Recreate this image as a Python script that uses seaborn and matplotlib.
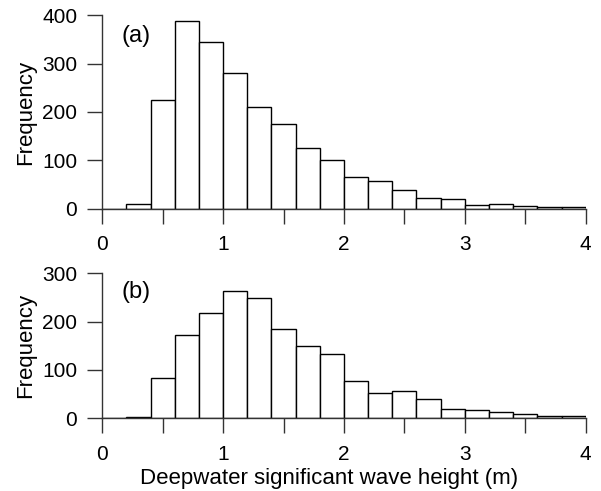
import numpy as np
import pandas as pd
import matplotlib
matplotlib.use("Agg")
import matplotlib.pyplot as plt
import seaborn as sns

sns.set_theme(style="ticks")
plt.rcParams['font.family'] = ['Liberation Sans', 'DejaVu Sans']
plt.rcParams['text.color'] = 'black'
plt.rcParams['axes.labelcolor'] = 'black'

# Bin lower edges (m) and counts
bin_left = [0.0, 0.2, 0.4, 0.6, 0.8, 1.0, 1.2, 1.4, 1.6, 1.8,
            2.0, 2.2, 2.4, 2.6, 2.8, 3.0, 3.2, 3.4, 3.6, 3.8]
counts_a = [0, 10, 225, 388, 345, 281, 210, 176, 125, 101,
            65, 58, 38, 22, 19, 7, 9, 5, 3, 3]
counts_b = [0, 3, 83, 172, 217, 263, 248, 184, 150, 134,
            78, 52, 56, 41, 19, 17, 14, 8, 5, 4]
bin_width = 0.2
panel_labels = ["(a)", "(b)"]
xlabel = "Deepwater significant wave height (m)"
ylabel = "Frequency"

edges = list(bin_left) + [bin_left[-1] + bin_width]
centers = [b + bin_width / 2 for b in bin_left]

fig = plt.figure(figsize=(6.01, 4.91), dpi=100)
ax_a = fig.add_axes([0.1702, 0.575, 0.8043, 0.3938])
ax_b = fig.add_axes([0.1702, 0.148, 0.8043, 0.2954])

spine_col = "#333333"
for ax, counts, lab, ymax, yticks, laby in [
        (ax_a, counts_a, panel_labels[0], 400, [0, 100, 200, 300, 400], 0.893),
        (ax_b, counts_b, panel_labels[1], 300, [0, 100, 200, 300], 0.868)]:
    df = pd.DataFrame({"h": centers, "n": counts})
    sns.histplot(data=df, x="h", weights="n", bins=edges, ax=ax,
                 color="white", edgecolor="black", linewidth=1.0, alpha=1.0)
    ax.set_xlim(0, 4)
    ax.set_ylim(0, ymax)
    ax.set_yticks(yticks)
    ax.set_xticks([0, 1, 2, 3, 4])
    ax.set_xticks([0.5, 1.5, 2.5, 3.5], minor=True)
    ax.tick_params(axis="both", which="both", direction="out", length=11,
                   width=1.0, color=spine_col, labelsize=15, labelcolor="black")
    ax.tick_params(axis="x", which="both", pad=8)
    ax.tick_params(axis="y", pad=7)
    for s in ["top", "right"]:
        ax.spines[s].set_visible(False)
    for s in ["left", "bottom"]:
        ax.spines[s].set_color(spine_col)
        ax.spines[s].set_linewidth(1.0)
    ax.set_ylabel(ylabel, fontsize=16, color="black")
    ax.yaxis.set_label_coords(-0.137, 0.5)
    ax.set_xlabel("")
    ax.text(0.04, laby, lab, transform=ax.transAxes, fontsize=17,
            va="center", ha="left", color="black")
    ax.set_facecolor("white")

ax_b.set_xlabel(xlabel, fontsize=16, color="black")
ax_b.xaxis.set_label_coords(0.469, -0.34)

fig.savefig("out.png", dpi=100, facecolor="white")
